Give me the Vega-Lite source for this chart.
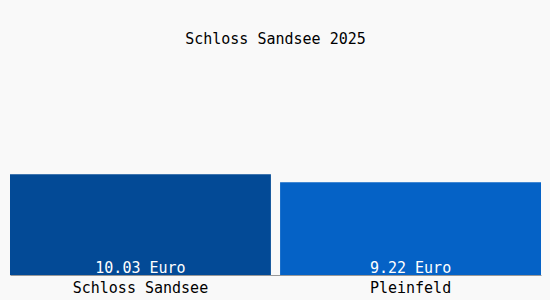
{
  "$schema": "https://vega.github.io/schema/vega-lite/v6.json",
  "width": 531,
  "height": 201,
  "autosize": {"type": "pad"},
  "padding": {"left": 10, "top": 32, "right": 9, "bottom": 5},
  "background": "#f9f9f9",
  "title": {
    "text": "Schloss Sandsee 2025",
    "font": "DejaVu Sans Mono",
    "fontSize": 15,
    "fontWeight": "normal",
    "color": "#000000",
    "anchor": "middle",
    "offset": 27
  },
  "config": {"view": {"stroke": null}},
  "data": {
    "values": [
      {"ort": "Schloss Sandsee", "wert": 10.03, "label": "10.03 Euro"},
      {"ort": "Pleinfeld", "wert": 9.22, "label": "9.22 Euro"}
    ]
  },
  "encoding": {
    "x": {
      "field": "ort",
      "type": "nominal",
      "sort": null,
      "scale": {"paddingInner": 0.034, "paddingOuter": 0},
      "axis": {
        "title": null,
        "labelAngle": 0,
        "labelFont": "DejaVu Sans Mono",
        "labelFontSize": 15,
        "labelColor": "#000000",
        "labelPadding": 5,
        "ticks": false,
        "domainColor": "#999999",
        "domainWidth": 1
      }
    }
  },
  "layer": [
    {
      "mark": {"type": "bar"},
      "encoding": {
        "y": {
          "field": "wert",
          "type": "quantitative",
          "scale": {"domain": [0, 20], "nice": false},
          "axis": null
        },
        "color": {
          "field": "ort",
          "type": "nominal",
          "scale": {"domain": ["Schloss Sandsee", "Pleinfeld"], "range": ["#034a96", "#0562c6"]},
          "legend": null
        }
      }
    },
    {
      "mark": {
        "type": "text",
        "font": "DejaVu Sans Mono",
        "fontSize": 15,
        "color": "#ffffff",
        "baseline": "bottom",
        "dy": 1
      },
      "encoding": {
        "y": {"datum": 0, "type": "quantitative"},
        "text": {"field": "label"}
      }
    }
  ]
}
